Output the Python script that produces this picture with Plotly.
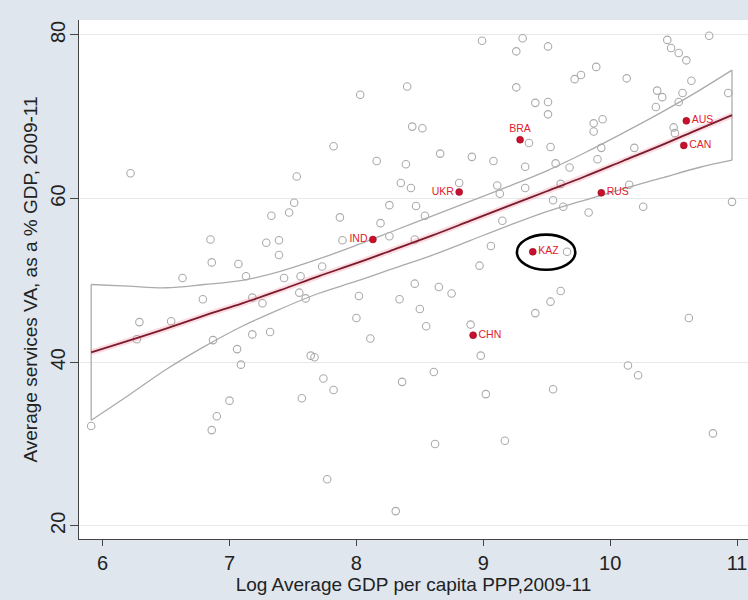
import plotly.graph_objects as go

# Log average GDP per capita PPP (2009-11) and services value added share of GDP (%)
gdp_log = [
    6.22, 7.53, 7.51, 7.47, 7.33, 6.85, 7.29, 7.39, 7.39, 6.86, 7.07, 6.63, 7.13, 7.43, 7.56,
    6.79, 7.18, 7.26, 7.55, 7.60, 6.29, 6.54, 6.27, 6.87, 7.18, 7.32, 7.06, 7.09, 7.64, 7.00,
    6.90, 6.86, 7.57, 5.91,
    8.99, 9.31, 9.26, 8.03, 8.40, 9.26, 8.44, 8.52, 7.82, 8.16, 8.39, 8.66, 8.91, 9.08, 9.33,
    8.35, 8.43, 8.81, 9.11, 9.13, 9.33, 8.26, 8.47, 8.54, 7.87, 8.19, 9.15, 7.89, 8.26, 8.46,
    9.06, 7.73, 8.97, 9.36,
    9.51, 10.45, 10.48, 10.54, 10.60, 10.78, 9.89, 9.77, 9.72, 10.13, 10.64, 10.37, 10.41,
    10.57, 10.54, 10.36, 10.93, 9.41, 9.51, 9.51, 9.87, 9.94, 9.87, 10.50, 10.51, 9.53, 9.57,
    9.68, 9.93, 9.90, 10.19, 9.61, 9.55, 9.63, 9.83, 10.15, 10.26, 10.96, 9.66,
    8.02, 8.46, 8.65, 8.75, 8.34, 8.50, 8.00, 8.55, 8.11, 8.90, 8.98, 7.67, 8.61, 7.74, 7.82,
    8.36, 9.02, 8.62, 9.17, 7.77, 8.31,
    9.61, 9.53, 9.41, 10.62, 10.14, 10.22, 9.55, 10.81,
]
services_va = [
    63.1, 62.7, 59.5, 58.3, 57.9, 55.0, 54.6, 54.9, 53.1, 52.2, 52.0, 50.3, 50.5, 50.3, 50.5,
    47.7, 47.9, 47.2, 48.5, 47.8, 44.9, 45.0, 42.8, 42.7, 43.4, 43.7, 41.6, 39.7, 40.8, 35.3,
    33.4, 31.7, 35.6, 32.2,
    79.3, 79.6, 78.0, 72.7, 73.7, 73.6, 68.8, 68.6, 66.4, 64.6, 64.2, 65.5, 65.1, 64.6, 63.9,
    61.9, 61.3, 61.9, 61.6, 60.6, 61.3, 59.2, 59.1, 57.9, 57.7, 57.0, 57.3, 54.9, 55.4, 55.0,
    54.2, 51.7, 51.8, 66.8,
    78.6, 79.4, 78.4, 77.8, 76.9, 79.9, 76.1, 75.1, 74.6, 74.7, 74.4, 73.2, 72.4,
    72.9, 71.8, 71.2, 72.9, 71.7, 71.8, 70.3, 69.2, 69.7, 68.2, 68.7, 68.0, 66.3, 64.3,
    63.8, 66.2, 64.8, 66.2, 61.8, 59.8, 59.0, 58.3, 61.7, 59.0, 59.6, 53.5,
    48.1, 49.6, 49.2, 48.4, 47.7, 46.5, 45.4, 44.4, 42.9, 44.6, 40.8, 40.6, 38.8, 38.0, 36.6,
    37.6, 36.1, 30.0, 30.4, 25.7, 21.8,
    48.7, 47.4, 46.0, 45.4, 39.6, 38.4, 36.7, 31.3,
]

# Highlighted economies
hl_codes = ["AUS", "CAN", "RUS", "BRA", "UKR", "IND", "KAZ", "CHN"]
hl_gdp_log = [10.60, 10.58, 9.93, 9.29, 8.81, 8.13, 9.39, 8.92]
hl_services = [69.5, 66.5, 60.7, 67.2, 60.8, 55.0, 53.5, 43.3]
hl_label_pos = ["middle right", "middle right", "middle right", "top center",
                "middle left", "middle left", "middle right", "middle right"]

# Quadratic fit with 95% confidence band
fit_x = [5.91, 6.2, 6.5, 6.8, 7.1, 7.4, 7.7, 8.0, 8.3, 8.6, 8.9, 9.2, 9.5, 9.8, 10.1, 10.4, 10.7, 10.96]
fit_y = [41.2, 42.6, 44.1, 45.7, 47.2, 48.8, 50.5, 52.1, 53.8, 55.5, 57.3, 59.1, 60.9, 62.7, 64.6, 66.5, 68.5, 70.2]
ci_upper = [49.5, 49.3, 49.1, 49.5, 50.0, 51.1, 52.6, 54.3, 56.1, 57.9, 59.7, 61.5, 63.4, 65.6, 68.0, 70.5, 73.2, 75.7]
ci_lower = [32.9, 35.9, 39.1, 41.9, 44.4, 46.5, 48.4, 49.9, 51.5, 53.1, 54.9, 56.7, 58.4, 59.8, 61.2, 62.5, 63.8, 64.7]

FONT = "Liberation Sans, Arial, sans-serif"
GRAY = "#ababab"
RED = "#c8102e"

fig = go.Figure()

fig.add_trace(go.Scatter(
    x=gdp_log, y=services_va, mode="markers",
    marker=dict(symbol="circle-open", size=7.5, color=GRAY, line=dict(width=1.1, color=GRAY)),
    hoverinfo="skip",
))

# confidence band outline
fig.add_trace(go.Scatter(x=fit_x, y=ci_upper, mode="lines",
                         line=dict(color=GRAY, width=1.3, shape="spline"), hoverinfo="skip"))
fig.add_trace(go.Scatter(x=fit_x, y=ci_lower, mode="lines",
                         line=dict(color=GRAY, width=1.3, shape="spline"), hoverinfo="skip"))
fig.add_trace(go.Scatter(
    x=[fit_x[0], fit_x[0], None, fit_x[-1], fit_x[-1]],
    y=[ci_lower[0], ci_upper[0], None, ci_lower[-1], ci_upper[-1]],
    mode="lines", line=dict(color=GRAY, width=1.3), hoverinfo="skip"))

# fitted line (soft halo under a dark red stroke)
fig.add_trace(go.Scatter(x=fit_x, y=fit_y, mode="lines",
                         line=dict(color="rgba(235,120,140,0.25)", width=6, shape="spline"),
                         hoverinfo="skip"))
fig.add_trace(go.Scatter(x=fit_x, y=fit_y, mode="lines",
                         line=dict(color="#7d1a2c", width=1.8, shape="spline"), hoverinfo="skip"))

fig.add_trace(go.Scatter(
    x=hl_gdp_log, y=hl_services, mode="markers+text",
    text=hl_codes, textposition=hl_label_pos,
    textfont=dict(family=FONT, size=10.5, color="#e0202c"),
    marker=dict(size=7, color=RED, line=dict(width=0.5, color="#8a0a1a")),
    hoverinfo="skip",
))

# ellipse around Kazakhstan
kaz = hl_codes.index("KAZ")
fig.add_shape(type="circle", xref="x", yref="y",
              x0=hl_gdp_log[kaz] - 0.125, x1=hl_gdp_log[kaz] + 0.335,
              y0=hl_services[kaz] - 2.2, y1=hl_services[kaz] + 2.1,
              line=dict(color="black", width=2.6))

fig.update_layout(
    width=748, height=600,
    margin=dict(l=79, r=0, t=20, b=61),
    paper_bgcolor="#dfe6ed", plot_bgcolor="white",
    showlegend=False,
    font=dict(family=FONT, color="#222"),
)
fig.update_xaxes(
    range=[5.814, 11.086], tickvals=[6, 7, 8, 9, 10, 11],
    ticks="outside", ticklen=6, tickwidth=1, tickcolor="#444",
    showline=True, linecolor="#444", linewidth=1.2, mirror=False,
    showgrid=False, zeroline=False, ticklabeloverflow="allow",
    tickfont=dict(family=FONT, size=20, color="#222"),
    title=dict(text="Log Average GDP per capita PPP,2009-11",
               font=dict(family=FONT, size=19, color="#222"), standoff=2),
)
fig.update_yaxes(
    range=[18.39, 81.83], tickvals=[20, 40, 60, 80],
    ticks="outside", ticklen=8, tickwidth=1, tickcolor="#444",
    showline=True, linecolor="#444", linewidth=1.2,
    showgrid=True, gridcolor="#e5e9ec", gridwidth=1, zeroline=False,
    tickangle=-90, ticklabelstandoff=-3,
    tickfont=dict(family=FONT, size=20, color="#222"),
    title=dict(text="Average services VA, as a % GDP, 2009-11",
               font=dict(family=FONT, size=19, color="#222"), standoff=4),
)

fig.write_html("out.html")
